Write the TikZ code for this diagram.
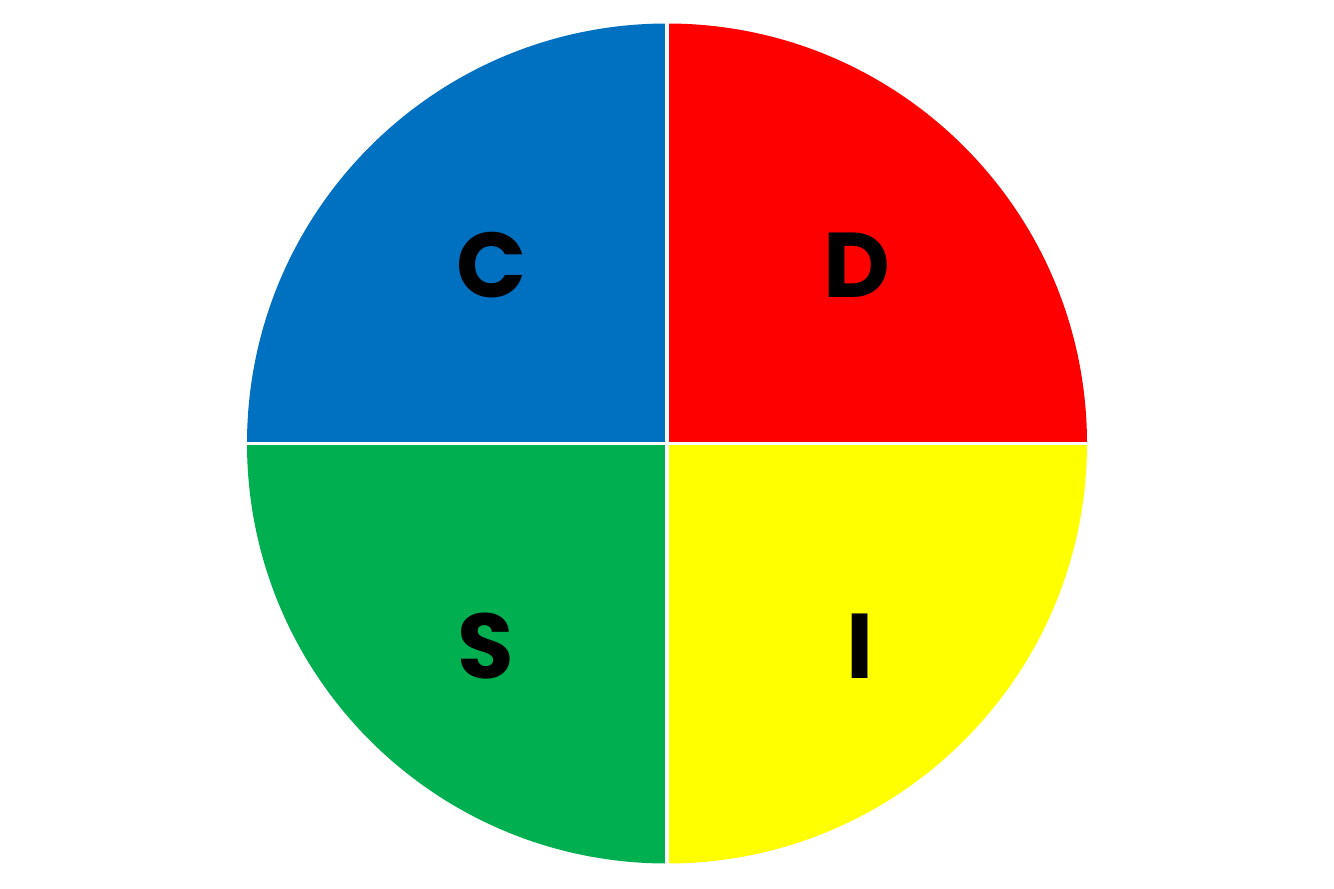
\documentclass[tikz,border=0pt]{standalone}
\usepackage{fontspec}
\newfontfamily\discfont{Poppins Bold}
\definecolor{cblue}{HTML}{0070C0}
\definecolor{dred}{HTML}{FF0000}
\definecolor{iyellow}{HTML}{FFFF00}
\definecolor{sgreen}{HTML}{00B050}
\tikzset{
  letter/.style={font=\discfont\fontsize{46}{46}\selectfont, text=black, inner sep=0pt, anchor=base},
  gapline/.style={white, line width=1.6pt}
}
\begin{document}
\begin{tikzpicture}[x=0.5pt,y=-0.5pt]
\useasboundingbox (0,0) rectangle (1334,889);
\coordinate (ctr) at (667,443.5);
\fill[cblue] (ctr) -- ++(180:420) arc[start angle=180,end angle=270,radius=420] -- cycle;
\fill[dred] (ctr) -- ++(270:420) arc[start angle=270,end angle=360,radius=420] -- cycle;
\fill[iyellow] (ctr) -- ++(0:420) arc[start angle=0,end angle=90,radius=420] -- cycle;
\fill[sgreen] (ctr) -- ++(90:420) arc[start angle=90,end angle=180,radius=420] -- cycle;
\coordinate (top) at (667,15);
\coordinate (bot) at (667,872);
\coordinate (lft) at (238,443.5);
\coordinate (rgt) at (1096,443.5);
\draw[gapline] (top) -- (bot);
\draw[gapline] (lft) -- (rgt);
\node[letter] (C) at (492,297.5) {C};
\node[letter] (D) at (857,297.5) {D};
\node[letter] (S) at (486,678) {S};
\node[letter] (I) at (860,678) {I};
\end{tikzpicture}
\end{document}
